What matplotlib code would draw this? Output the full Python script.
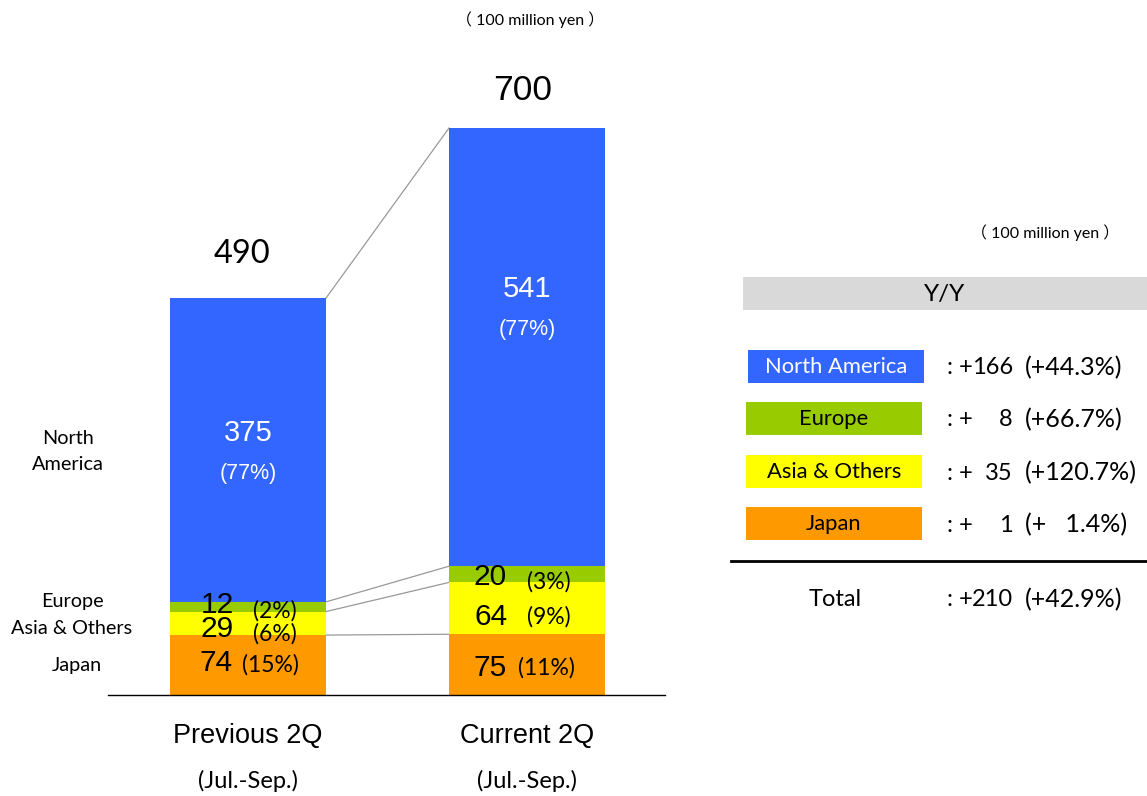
import matplotlib
matplotlib.use("Agg")
import matplotlib.pyplot as plt
from matplotlib.patches import Rectangle
import numpy as np

# ---- data ----
periods = ["Previous 2Q", "Current 2Q"]
period_sub = ["(Jul.-Sep.)", "(Jul.-Sep.)"]
regions = ["Japan", "Asia & Others", "Europe", "North America"]
japan = [74, 75]
asia = [29, 64]
europe = [12, 20]
north_america = [375, 541]
totals = [490, 700]
pct_japan = ["(15%)", "(11%)"]
pct_asia = ["(6%)", "(9%)"]
pct_europe = ["(2%)", "(3%)"]
pct_na = ["(77%)", "(77%)"]
yy_labels = ["North America", "Europe", "Asia & Others", "Japan"]
yy_change = [166, 8, 35, 1]
yy_pct = ["+44.3%", "+66.7%", "+120.7%", "+   1.4%"]
total_label = "Total"
total_change = 210
total_pct = "+42.9%"
unit_label = "\uff08 100 million yen \uff09"

colors = {"Japan": "#FF9900", "Asia & Others": "#FFFF00",
          "Europe": "#99CC00", "North America": "#3366FF"}
yy_colors = [colors["North America"], colors["Europe"], colors["Asia & Others"], colors["Japan"]]

W, H = 1147, 796
fig = plt.figure(figsize=(W / 100, H / 100), dpi=100)

SANS = ["Liberation Sans", "DejaVu Sans"]
CAL = ["Lato", "Noto Sans CJK JP", "DejaVu Sans"]

# ---- bar chart axes ----
base_px = 695
top_px = 0
px_per_unit = (695 - 128) / 700.0
ymax = (base_px - top_px) / px_per_unit
left_px, right_px = 108, 665
ax = fig.add_axes([left_px / W, (H - base_px) / H, (right_px - left_px) / W, (base_px - top_px) / H])
xc = np.array([0.0, 1.0])
upp = 279.0  # px per x unit
ax.set_xlim((left_px - 248) / upp, 1 + (right_px - 527) / upp)
ax.set_ylim(0, ymax)
bw = 156 / upp

stack = [("Japan", japan), ("Asia & Others", asia), ("Europe", europe), ("North America", north_america)]
bottom = np.zeros(2)
tops = []
bases = []
for name, vals in stack:
    vals = np.array(vals, dtype=float)
    ax.bar(xc, vals, bw, bottom=bottom, color=colors[name], linewidth=0, zorder=2)
    bases.append(bottom.copy())
    bottom = bottom + vals
    tops.append(bottom.copy())

for s in ["top", "right", "left"]:
    ax.spines[s].set_visible(False)
ax.spines["bottom"].set_linewidth(1.0)
ax.spines["bottom"].set_color("black")
ax.set_xticks([])
ax.set_yticks([])
ax.patch.set_visible(False)

# connector lines
for t in tops:
    ax.plot([xc[0] + bw / 2, xc[1] - bw / 2], [t[0], t[1]], color="#999999", lw=0.9, zorder=1)

# totals
ax.text(xc[0] - 0.02, totals[0] + 55, str(totals[0]), ha="center", va="center",
        fontsize=23.5, family=CAL, color="black")
ax.text(xc[1] - 0.015, totals[1] + 46, str(totals[1]), ha="center", va="center",
        fontsize=25.5, family=SANS, color="black")

# NA labels (position as fraction of segment)
na_frac = [0.556, 0.632]
for i in range(2):
    y = bases[3][i] + north_america[i] * na_frac[i]
    ax.text(xc[i], y, str(north_america[i]), ha="center", va="center",
            fontsize=21, family=SANS, color="white")
    ax.text(xc[i], y - 50, pct_na[i], ha="center", va="center",
            fontsize=15.5, family=SANS, color="white")

# segment labels
num_dx = [[-0.115, -0.11, -0.11], [-0.133, -0.129, -0.133]]
pct_dx = [[0.08, 0.097, 0.097], [0.068, 0.079, 0.079]]
segs = [(japan, pct_japan, 0, [2, -4], [0, -4]),
        (asia, pct_asia, 1, [-7, -10.5], [-13, -10.5]),
        (europe, pct_europe, 2, [2.5, -3.5], [-5, -9.5])]
for k, (vals, pcts, si, ndy, pdy) in enumerate(segs):
    for i in range(2):
        mid = bases[si][i] + vals[i] / 2.0
        ax.text(xc[i] + num_dx[i][k], mid + ndy[i], str(vals[i]), ha="center", va="center",
                fontsize=21.5, family=SANS, color="black", zorder=5)
        ax.text(xc[i] + pct_dx[i][k], mid + pdy[i], pcts[i], ha="center", va="center",
                fontsize=16.5, family=CAL, color="black", zorder=5)

# ---- overlay for text & right panel (pixel coords) ----
ov = fig.add_axes([0, 0, 1, 1])
ov.set_xlim(0, W)
ov.set_ylim(H, 0)
ov.axis("off")
ov.patch.set_visible(False)

ov.text(530, 20, unit_label, ha="center", va="center", fontsize=11.5, family=CAL)

# left category labels
ov.text(68, 438, "North", ha="center", va="center", fontsize=14.3, family=CAL)
ov.text(68, 465, "America", ha="center", va="center", fontsize=14.3, family=CAL)
ov.text(72, 601, "Europe", ha="center", va="center", fontsize=14.3, family=CAL)
ov.text(72, 628, "Asia & Others", ha="center", va="center", fontsize=14.3, family=CAL)
ov.text(77, 666, "Japan", ha="center", va="center", fontsize=14.3, family=CAL)

# period labels
for i, cx in enumerate([248, 527]):
    ov.text(cx, 736, periods[i], ha="center", va="center", fontsize=19.5, family=SANS)
    ov.text(cx, 781, period_sub[i], ha="center", va="center", fontsize=17, family=CAL)

# right panel
ov.text(1045, 233, unit_label, ha="center", va="center", fontsize=11.5, family=CAL)
ov.add_patch(Rectangle((743, 277), 404, 33, facecolor="#D9D9D9", edgecolor="none"))
ov.text(945, 294, "Y/Y", ha="center", va="center", fontsize=17.5, family=CAL)

RS = 17


def yy_row(y, change, pct):
    ov.text(946, y, ":", ha="left", va="center", fontsize=RS, family=CAL)
    ov.text(973, y, "+", ha="right", va="center", fontsize=RS, family=CAL)
    ov.text(1013, y, str(change), ha="right", va="center", fontsize=RS, family=CAL)
    ov.text(1025, y, "(" + pct + ")", ha="left", va="center", fontsize=18, family=CAL)


box_y = [350, 402, 455, 507]
box_x = [748, 746, 746, 746]
for k in range(4):
    ov.add_patch(Rectangle((box_x[k], box_y[k]), 176, 33, facecolor=yy_colors[k], edgecolor="none"))
    tc = "white" if k == 0 else "black"
    ov.text(box_x[k] + 88, box_y[k] + 17, yy_labels[k], ha="center", va="center",
            fontsize=15.8, family=CAL, color=tc)
    yy_row(box_y[k] + 18, yy_change[k], yy_pct[k])

ov.plot([731, 1147], [561, 561], color="black", lw=2)
ov.text(835, 600, total_label, ha="center", va="center", fontsize=17, family=CAL)
yy_row(600, total_change, total_pct)

fig.savefig("out.png", dpi=100)
